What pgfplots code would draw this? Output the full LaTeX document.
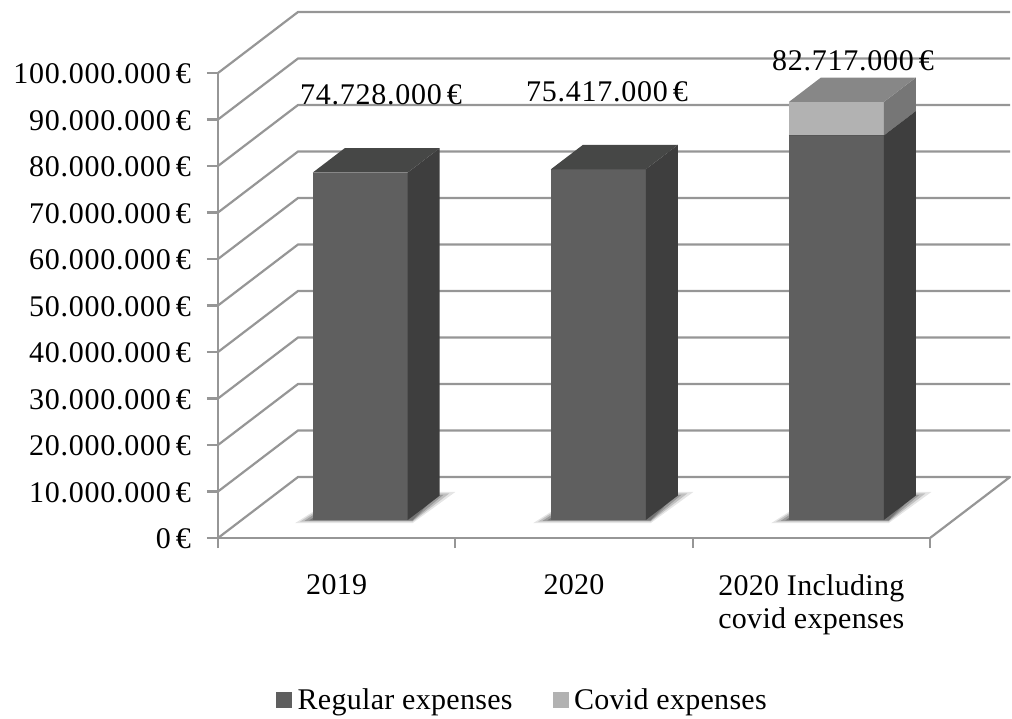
\documentclass[border=0pt]{standalone}
\usepackage{fontspec}
\setmainfont[LetterSpace=1]{Liberation Serif}
\newfontfamily\numfont[LetterSpace=2.5]{Liberation Serif}
\usepackage{pgfplots}
\usepackage{pgfplotstable}
\pgfplotsset{compat=1.18}
\newcommand\chartfont{\fontsize{30}{33}\selectfont}
\newcommand\valuefont{\numfont\fontsize{30}{33}\selectfont}

\definecolor{gridgray}{HTML}{969696}
\definecolor{regfront}{HTML}{5F5F5F}
\definecolor{regside}{HTML}{3E3E3E}
\definecolor{regtop}{HTML}{464746}
\definecolor{covfront}{HTML}{B2B2B2}
\definecolor{covside}{HTML}{767676}
\definecolor{covtop}{HTML}{878787}

% Oblique projection: column d is depth into the chart (0 = front, 1 = back wall)
\pgfplotsset{
  /pgfplots/table/proj/.style={x expr=\thisrow{x}+\thisrow{d}*0.3371, y expr=\thisrow{v}+\thisrow{d}*13118000},
  face/.style={fill=#1, draw=none, forget plot},
  gridline/.style={draw=gridgray, line width=2.2pt, forget plot, line join=round},
}

% One box of a 3D column: left x, right x, lower value, upper value, three colours
\newcommand\boxfaces[7]{%
  \addplot[face=#5] table[proj, row sep=\\]{x d v\\ #1 0.295 #3\\ #2 0.295 #3\\ #2 0.295 #4\\ #1 0.295 #4\\};
  \addplot[face=#6] table[proj, row sep=\\]{x d v\\ #2 0.295 #3\\ #2 0.695 #3\\ #2 0.695 #4\\ #2 0.295 #4\\};
  \addplot[face=#7] table[proj, row sep=\\]{x d v\\ #1 0.295 #4\\ #2 0.295 #4\\ #2 0.695 #4\\ #1 0.695 #4\\};
}

\begin{document}
\begin{tikzpicture}[x=1pt,y=1pt]
\useasboundingbox (-218,-180) rectangle (794,538);
\begin{axis}[
  at={(0,0)}, anchor=south west,
  width=712pt, height=465pt, scale only axis,
  clip=false,
  xmin=0, xmax=3, ymin=0, ymax=100000000,
  axis lines=left,
  axis line style={draw=gridgray, line width=2.2pt, -},
  scaled y ticks=false,
  tick align=outside,
  major tick length=11pt,
  minor tick length=10pt,
  ytick={0,10000000,20000000,30000000,40000000,50000000,60000000,70000000,80000000,90000000,100000000},
  yticklabels={0\,€,10.000.000\,€,20.000.000\,€,30.000.000\,€,40.000.000\,€,50.000.000\,€,60.000.000\,€,70.000.000\,€,80.000.000\,€,90.000.000\,€,100.000.000\,€},
  xtick={0.5,1.5,2.5},
  xticklabels={2019,2020,{2020 Including\\covid expenses}},
  minor xtick={0,1,2,3},
  major y tick style={draw=gridgray, line width=2.2pt},
  major x tick style={draw=none},
  minor x tick style={draw=gridgray, line width=2.2pt},
  tick label style={font=\chartfont},
  yticklabel style={font=\valuefont, xshift=-14pt, yshift=-1pt, inner sep=2pt},
  xticklabel style={align=center, yshift=-25pt, inner sep=0pt},
  legend style={font=\chartfont, draw=none, fill=none, at={(0.4277,-0.348)}, anchor=center,
    legend columns=2, /tikz/every even column/.append style={column sep=38pt}},
]
% Back wall and side wall gridlines
\pgfplotsinvokeforeach{10000000,20000000,30000000,40000000,50000000,60000000,70000000,80000000,90000000,100000000}{
  \addplot[gridline] table[x expr=\thisrow{x}+\thisrow{d}*0.3371, y expr=#1+\thisrow{d}*13118000, row sep=\\]{x d\\ 0 0\\ 0 1\\ 3 1\\};
}
% Floor outline
\addplot[gridline] table[proj, row sep=\\]{x d v\\ 0 0 0\\ 0 1 0\\ 3 1 0\\ 3 0 0\\};

% Floor shadows: wide pale layer, then tighter darker layers
\pgfplotsinvokeforeach{0,1.003,2.006}{
  \addplot[fill=black, fill opacity=0.10, draw=none, forget plot] table[x expr=\thisrow{x}+#1, y=y, row sep=\\]{x y\\ 0.325 3200000\\ 0.82 3200000\\ 1.00 9900000\\ 0.53 9900000\\};
  \addplot[fill=black, fill opacity=0.16, draw=none, forget plot] table[x expr=\thisrow{x}+#1, y=y, row sep=\\]{x y\\ 0.345 3500000\\ 0.82 3500000\\ 0.975 9600000\\ 0.53 9600000\\};
  \addplot[fill=black, fill opacity=0.20, draw=none, forget plot] table[x expr=\thisrow{x}+#1, y=y, row sep=\\]{x y\\ 0.365 3700000\\ 0.82 3700000\\ 0.95 9300000\\ 0.53 9300000\\};
  \addplot[fill=black, fill opacity=0.24, draw=none, forget plot] table[x expr=\thisrow{x}+#1, y=y, row sep=\\]{x y\\ 0.385 3800000\\ 0.82 3800000\\ 0.92 9000000\\ 0.53 9000000\\};
}

% Columns
\boxfaces{0.300}{0.700}{0}{74728000}{regfront}{regside}{regtop}
\boxfaces{1.303}{1.703}{0}{75417000}{regfront}{regside}{regtop}
\boxfaces{2.306}{2.706}{0}{82717000}{regfront}{regside}{regtop}
\boxfaces{2.306}{2.706}{82717000}{89900000}{covfront}{covside}{covtop}

% Total labels
\node[font=\valuefont, inner sep=0pt] at (axis cs:0.687,95270000) {74.728.000\,€};
\node[font=\valuefont, inner sep=0pt] at (axis cs:1.639,95900000) {75.417.000\,€};
\node[font=\valuefont, inner sep=0pt] at (axis cs:2.676,102700000) {82.717.000\,€};

% Legend
\addlegendimage{legend image code/.code={\fill[regfront] (0pt,-7.5pt) rectangle (15pt,7.5pt);}}
\addlegendentry{\hspace{4pt}Regular expenses}
\addlegendimage{legend image code/.code={\fill[covfront] (0pt,-7.5pt) rectangle (15pt,7.5pt);}}
\addlegendentry{\hspace{4pt}Covid expenses}
\end{axis}
\end{tikzpicture}
\end{document}
